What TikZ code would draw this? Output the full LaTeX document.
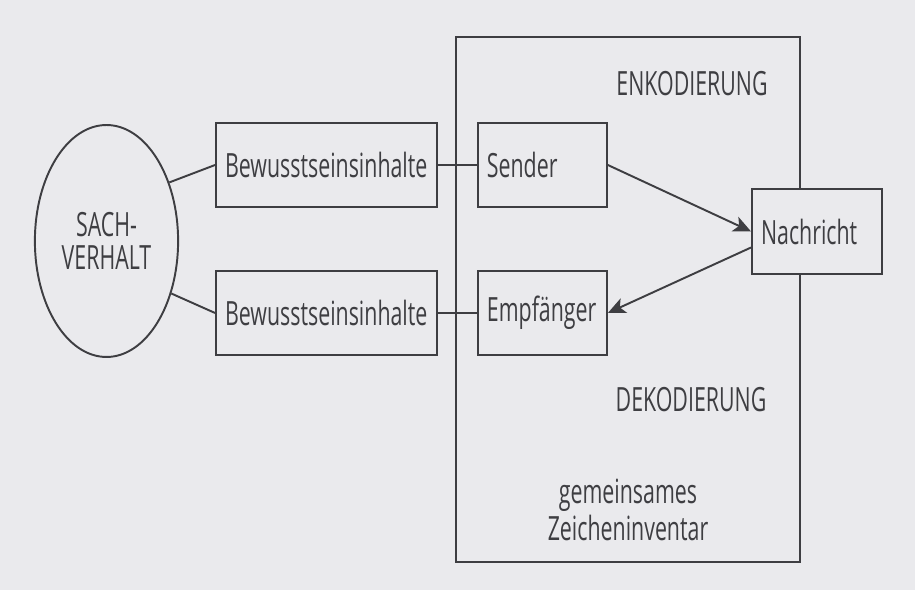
\documentclass[tikz,border=0pt]{standalone}
\usepackage{fontspec}
\setmainfont{Open Sans}[FakeStretch=0.64]
\usetikzlibrary{shapes.geometric,arrows.meta,positioning}
\definecolor{ScanBg}{RGB}{234,234,237}
\definecolor{InkGray}{RGB}{62,62,66}
\newcommand{\diafont}{\fontsize{19}{19}\selectfont}
\tikzset{
  box/.style={rectangle,draw=InkGray,fill=ScanBg,line width=1.1pt,minimum height=1.68cm,inner xsep=0.18cm,align=left,text=InkGray,font=\diafont},
  topic/.style={ellipse,draw=InkGray,fill=ScanBg,line width=1.1pt,minimum width=2.86cm,minimum height=4.64cm,align=center,text=InkGray,font=\diafont},
  codeframe/.style={rectangle,draw=InkGray,line width=1.1pt,minimum width=6.88cm,minimum height=10.5cm},
  caption/.style={text=InkGray,font=\diafont,align=center},
  link/.style={draw=InkGray,line width=1.1pt},
  arrow/.style={-{Stealth[length=10pt,width=9pt,inset=2.5pt]},line width=1.1pt,color=InkGray},
}
\begin{document}
\begin{tikzpicture}[x=0.02cm,y=-0.02cm]
  % page
  \fill[ScanBg] (0,0) rectangle (915,590);
  \useasboundingbox (0,0) rectangle (915,590);

  % shared code frame
  \node[codeframe] (frame) at (628,299.5) {};
  \node[caption] (enc) at (692,84) {ENKODIERUNG};
  \node[caption] (dec) at (691,400) {DEKODIERUNG};
  \node[caption,font=\fontsize{19}{21}\selectfont] (inv) at (628,510) {gemeinsames\\Zeicheninventar};

  % matter of fact
  \node[topic] (fact) at (106.5,241) {SACH-\\VERHALT};

  % contents of consciousness
  \node[box, text width=4.06cm] (bwtop) at (326.5,165) {Bewusstseinsinhalte};
  \node[box, text width=4.06cm] (bwbot) at (326.5,313) {Bewusstseinsinhalte};

  % sender / receiver
  \node[box, text width=2.22cm, right=0.78cm of bwtop] (sender) {Sender};
  \node[box, text width=2.22cm, right=0.78cm of bwbot] (receiver) {Empfänger};

  % message
  \node[box, text width=2.24cm, minimum height=1.7cm] (msg) at (817,231.5) {Nachricht};

  % links
  \draw[link] (fact.43) -- (bwtop.west);
  \draw[link] (fact.-39) -- (bwbot.west);
  \draw[link] (bwtop) -- (sender);
  \draw[link] (bwbot) -- (receiver);

  % arrows
  \draw[arrow] (sender.east) -- (msg.west);
  \draw[arrow] ([yshift=-0.32cm]msg.west) -- (receiver.east);
\end{tikzpicture}
\end{document}
